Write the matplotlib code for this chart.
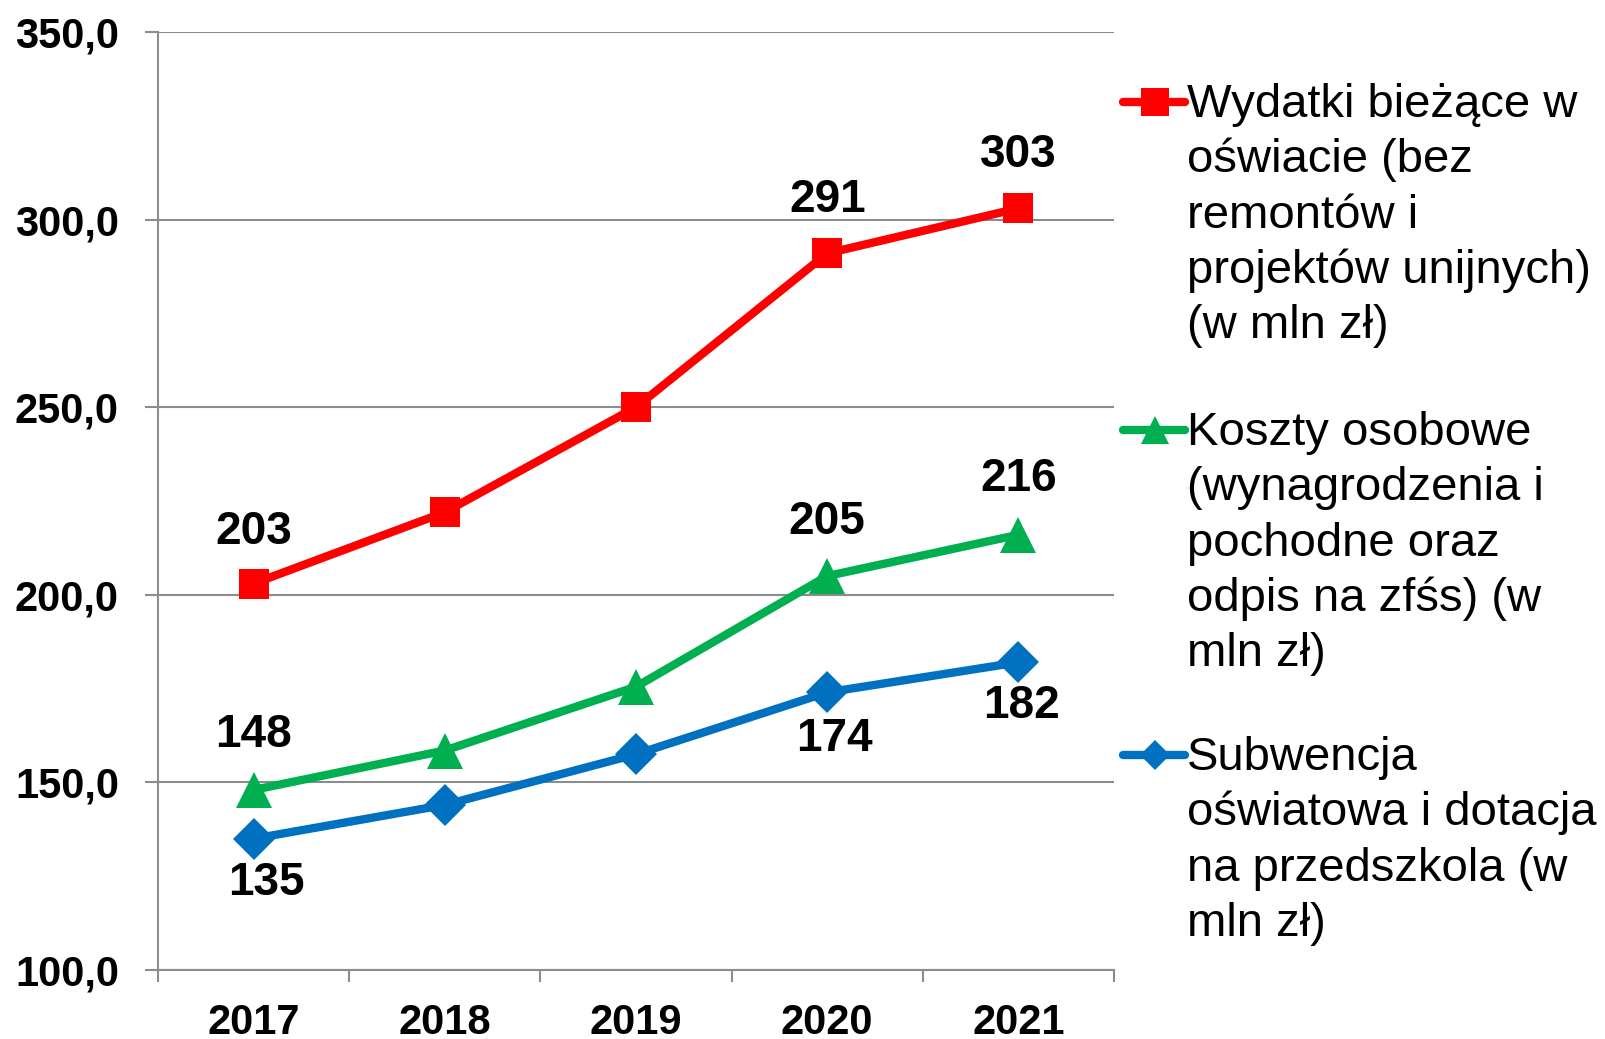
import matplotlib
matplotlib.use("Agg")
import matplotlib.pyplot as plt
from matplotlib.lines import Line2D
from matplotlib.ticker import FixedLocator, FuncFormatter

plt.rcParams['font.family'] = ['Liberation Sans', 'DejaVu Sans']

years = ['2017', '2018', '2019', '2020', '2021']
wydatki = [203, 222, 250, 291, 303]
koszty = [148, 158.5, 175.5, 205, 216]
subwencja = [135, 144, 157.5, 174, 182]

labels = [
    "Wydatki bieżące w\noświacie (bez\nremontów i\nprojektów unijnych)\n(w mln zł)",
    "Koszty osobowe\n(wynagrodzenia i\npochodne oraz\nodpis na zfśs) (w\nmln zł)",
    "Subwencja\noświatowa i dotacja\nna przedszkola (w\nmln zł)",
]
yticks = [100, 150, 200, 250, 300, 350]

colors = ['#FF0000', '#00B050', '#0070C0']
markers = ['s', '^', 'D']
msizes = [22, 26, 21]
series = [wydatki, koszty, subwencja]
# which points get labels: (index, dx px, dy px)
label_pos = [
    [(0, 0, 52), (3, 0, 53), (4, 0, 53)],
    [(0, 0, 55), (3, 0, 54), (4, 0, 56)],
    [(0, 13, -44), (3, 7, -47), (4, 3, -44)],
]

W, H = 1605, 1039
fig = plt.figure(figsize=(W / 100, H / 100), dpi=100)
ax = fig.add_axes([158 / W, 1 - 970 / H, (1114 - 158) / W, (970 - 32) / H])

x = list(range(len(years)))
grey = '#8C8C8C'
px = 72 / 100.0  # points per pixel

for s, c, m, ms in zip(series, colors, markers, msizes):
    ax.plot(x, s, color=c, lw=6, marker=m, markersize=ms, markeredgewidth=0,
            solid_joinstyle='miter', zorder=3, clip_on=False)

for s, lp in zip(series, label_pos):
    for i, dx, dy in lp:
        ax.annotate(f"{round(s[i])}", (x[i], s[i]), xytext=(dx * px, dy * px),
                    textcoords='offset points', ha='center', va='center',
                    fontsize=33, fontweight='bold', color='black', zorder=4)

ax.set_xlim(-0.5, len(years) - 0.5)
ax.set_ylim(100, 350)
ax.set_yticks(yticks)
ax.yaxis.set_major_formatter(FuncFormatter(lambda v, p: f"{v:.1f}".replace('.', ',')))
ax.set_xticks(x)
ax.set_xticklabels(years)
ax.xaxis.set_minor_locator(FixedLocator([i - 0.5 for i in range(len(years) + 1)]))

ax.tick_params(axis='y', which='major', direction='out', length=13 * px, width=1.5,
               color=grey, pad=26 * px, labelsize=30)
ax.tick_params(axis='x', which='major', length=0, pad=33 * px, labelsize=30)
ax.tick_params(axis='x', which='minor', direction='out', length=12 * px, width=1.5,
               color=grey)
for t in ax.get_xticklabels() + ax.get_yticklabels():
    t.set_fontweight('bold')

ax.yaxis.grid(True, color=grey, lw=1.5, zorder=0)
ax.set_axisbelow(True)
for sp in ['top', 'right']:
    ax.spines[sp].set_visible(False)
for sp in ['left', 'bottom']:
    ax.spines[sp].set_color(grey)
    ax.spines[sp].set_linewidth(1.5)

# legend (manual, handle aligned with first line)
first_centers = [102, 430, 755]
line_h = 55.3
text_x = 1187
for lab, c, m, yc in zip(labels, colors, markers, first_centers):
    yf = 1 - yc / H
    fig.add_artist(Line2D([1123 / W, 1185 / W], [yf, yf], color=c, lw=6,
                          solid_capstyle='round', transform=fig.transFigure))
    fig.add_artist(Line2D([1155 / W], [yf], color=c, marker=m,
                          markersize={'s': 20, '^': 20, 'D': 15}[m], markeredgewidth=0,
                          transform=fig.transFigure))
    for k, ln in enumerate(lab.split('\n')):
        yb = yc + 15 + k * line_h
        fig.text(text_x / W, 1 - yb / H, ln, ha='left', va='baseline', fontsize=34,
                 color='black')

fig.savefig('out.png', dpi=100)
